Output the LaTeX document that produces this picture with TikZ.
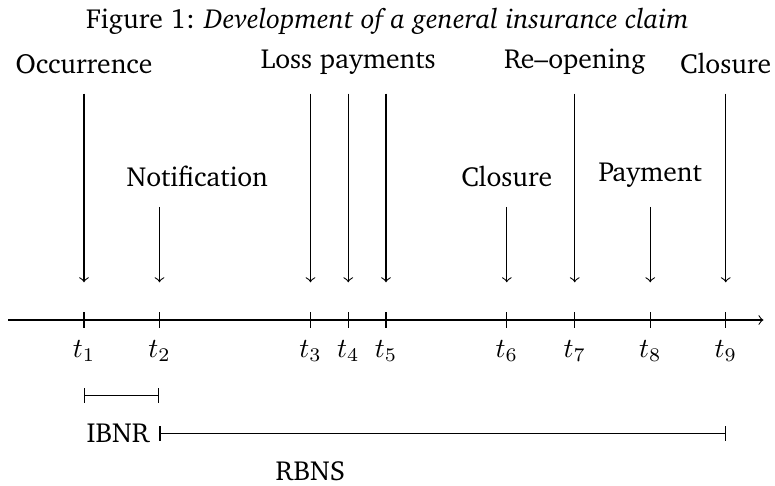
\documentclass[tikz,border=0pt]{standalone}
\usepackage[T1]{fontenc}
\usepackage{charter}
\begin{document}
\begin{tikzpicture}[x=13.67pt,y=13.67pt,line width=0.4pt,
  lab/.style={anchor=south,inner sep=3.33pt},
  tlab/.style={anchor=base}]
\useasboundingbox (-2.225,-4.371) rectangle (18.305,8.477);
% title
\node[anchor=base] (title) at (8.04,7.735) {Figure 1: \textit{Development of a general insurance claim}};
% axis
\coordinate (ax0) at (-2,0);
\coordinate (ax1) at (18,0);
\draw[->] (ax0) -- (ax1);
% event arrows, ticks and tick labels
\foreach \n/\x/\t in {1/0/6, 2/2/3, 3/6/6, 4/7/6, 5/8/6, 6/11.2/3, 7/13/6, 8/15/3, 9/17/6} {
  \coordinate (top\n) at (\x,\t);
  \coordinate (end\n) at (\x,1);
  \coordinate (tk\n) at (\x,0);
  \draw[->] (top\n) -- (end\n);
  \draw ([yshift=2.75pt]tk\n) -- ([yshift=-2.75pt]tk\n);
  \node[tlab] (t\n) at (\x,-0.98) {$t_{\n}$};
}
% event labels
\node[lab] (occ) at (0,6.25) {Occurrence};
\node[lab] (loss) at (7,6.25) {Loss payments};
\node[lab] (reop) at (13,6.25) {Re--opening};
\node[lab] (clo2) at (17,6.25) {Closure};
\node[lab] (notif) at (3,3.26) {Notification};
\node[lab] (clo1) at (11.2,3.26) {Closure};
\node[lab] (pay) at (15,3.26) {Payment};
% intervals
\coordinate (ib0) at (0,-2);
\coordinate (ib1) at (2,-2);
\draw[|-|] (ib0) -- (ib1);
\coordinate (rb0) at (2,-3);
\coordinate (rb1) at (17,-3);
\draw[|-|] (rb0) -- (rb1);
\node[left] (ibnr) at (rb0) {IBNR};
\node[tlab] (rbns) at (6,-4.24) {RBNS};
\end{tikzpicture}
\end{document}
